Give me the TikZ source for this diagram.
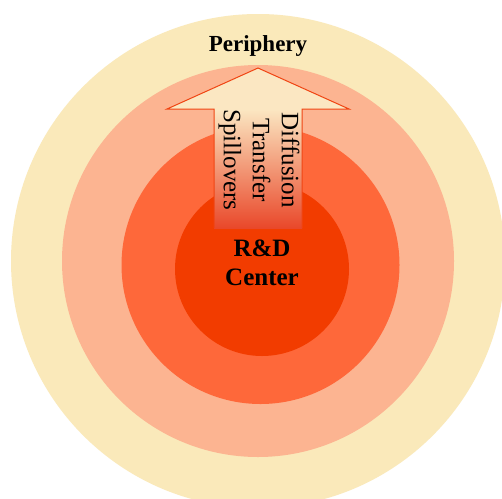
\documentclass[tikz,border=0pt]{standalone}
\usepackage{fontspec}
\setmainfont{Liberation Serif}
\definecolor{ringA}{HTML}{FAE9BA}
\definecolor{ringB}{HTML}{FCB491}
\definecolor{ringC}{HTML}{FE683A}
\definecolor{ringD}{HTML}{F23C00}
\definecolor{arrcream}{HTML}{FBE7C2}
\definecolor{arrpink}{HTML}{F5A888}
\definecolor{arrred}{HTML}{E9482A}
\definecolor{arrline}{HTML}{F04412}
\tikzset{
  ring/.style={draw=none},
  flowtext/.style={rotate=-90, align=center, font=\fontsize{25}{29}\selectfont, inner sep=0pt},
  boldlabel/.style={align=center, inner sep=0pt}
}
\begin{document}
\begin{tikzpicture}[x=1pt,y=-1pt]
\useasboundingbox (0,0) rectangle (502,498);
\clip (0,0) rectangle (502,498);
\fill[white] (0,0) rectangle (502,498);
\fill[ringA, ring] (258,261) circle (247pt);
\fill[ringB, ring] (258,261) circle (196pt);
\fill[ringC, ring] (260.5,265) circle (139pt);
\fill[ringD, ring] (262,269) circle (87pt);
% arrow
\coordinate (tip) at (258,68);
\coordinate (hr) at (349,109);
\coordinate (sr) at (302,109);
\coordinate (br) at (302,228);
\coordinate (bl) at (214,228);
\coordinate (sl) at (214,109);
\coordinate (hl) at (167,109);
\fill[arrcream] (tip) -- (hr) -- (sr) -- (sl) -- (hl) -- cycle;
\shade[top color=arrcream, middle color=arrpink, bottom color=arrred] (sl) rectangle (br);
\draw[arrline, line width=1pt, line join=miter] (br) -- (sr) -- (hr) -- (tip) -- (hl) -- (sl) -- (bl);
\node[flowtext] (flows) at (259,160) {Diffusion\\Transfer\\Spillovers};
\node[boldlabel, font=\bfseries\fontsize{23}{27}\selectfont] (periph) at (258,46) {Periphery};
\node[boldlabel, font=\bfseries\fontsize{25}{29}\selectfont] (rdc) at (262,263) {R\&D\\Center};
\end{tikzpicture}
\end{document}
